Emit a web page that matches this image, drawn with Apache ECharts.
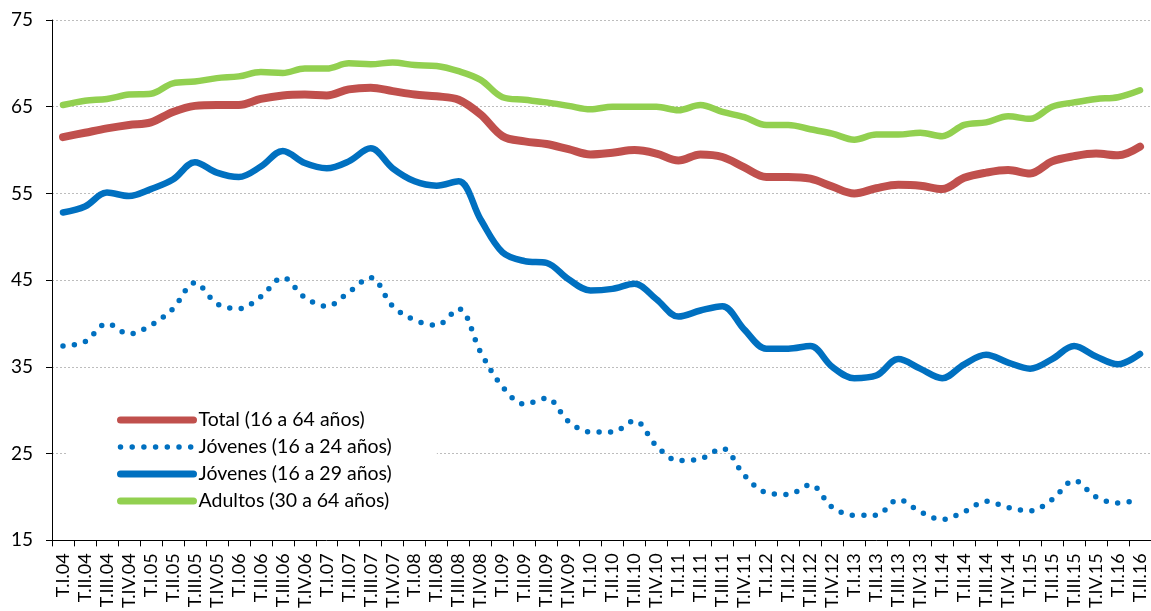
<!DOCTYPE html>
<html>
<head>
<meta charset="utf-8">
<script src="https://cdn.jsdelivr.net/npm/echarts@6/dist/echarts.min.js"></script>
<style>
html,body{margin:0;padding:0;background:#fff;}
#chart{width:1151px;height:611px;}
</style>
</head>
<body>
<div id="chart"></div>
<script>
const categories = [
  'T.I.04','T.II.04','T.III.04','T.IV.04',
  'T.I.05','T.II.05','T.III.05','T.IV.05',
  'T.I.06','T.II.06','T.III.06','T.IV.06',
  'T.I.07','T.II.07','T.III.07','T.IV.07',
  'T.I.08','T.II.08','T.III.08','T.IV.08',
  'T.I.09','T.II.09','T.III.09','T.IV.09',
  'T.I.10','T.II.10','T.III.10','T.IV.10',
  'T.I.11','T.II.11','T.III.11','T.IV.11',
  'T.I.12','T.II.12','T.III.12','T.IV.12',
  'T.I.13','T.II.13','T.III.13','T.IV.13',
  'T.I.14','T.II.14','T.III.14','T.IV.14',
  'T.I.15','T.II.15','T.III.15','T.IV.15',
  'T.I.16','T.II.16'
];

const total16_64 = [
  61.5, 62.0, 62.5, 62.9, 63.2, 64.4, 65.1, 65.2, 65.2, 65.9,
  66.3, 66.4, 66.3, 67.0, 67.2, 66.8, 66.4, 66.2, 65.8, 64.1,
  61.6, 61.0, 60.7, 60.1, 59.5, 59.7, 60.0, 59.6, 58.8, 59.5,
  59.2, 58.0, 56.9, 56.9, 56.7, 55.8, 55.0, 55.6, 56.0, 55.9,
  55.5, 56.8, 57.4, 57.7, 57.3, 58.7, 59.3, 59.6, 59.4, 60.4
];

const jovenes16_24 = [
  37.4, 37.9, 40.0, 38.8, 39.8, 41.7, 44.7, 42.3, 41.7, 43.1,
  45.3, 43.0, 42.0, 43.6, 45.3, 42.0, 40.4, 39.8, 41.7, 36.7,
  32.7, 30.7, 31.4, 28.7, 27.5, 27.5, 28.8, 25.9, 24.2, 24.4,
  25.6, 22.5, 20.5, 20.3, 21.4, 18.8, 17.9, 17.9, 19.7, 18.3,
  17.4, 18.3, 19.5, 18.8, 18.4, 19.7, 21.9, 20.0, 19.3, 19.7
];

const jovenes16_29 = [
  52.8, 53.5, 55.1, 54.7, 55.5, 56.6, 58.6, 57.4, 56.9, 58.1,
  59.9, 58.5, 57.9, 58.7, 60.2, 57.9, 56.4, 55.9, 56.4, 52.0,
  48.2, 47.2, 47.0, 45.1, 43.8, 44.0, 44.6, 42.8, 40.8, 41.5,
  42.0, 39.3, 37.1, 37.1, 37.4, 35.0, 33.7, 34.0, 35.9, 34.8,
  33.7, 35.3, 36.4, 35.5, 34.8, 35.9, 37.4, 36.2, 35.3, 36.5
];

const adultos30_64 = [
  65.2, 65.7, 65.9, 66.4, 66.5, 67.7, 67.9, 68.3, 68.5, 69.0,
  68.9, 69.4, 69.4, 70.0, 69.9, 70.1, 69.8, 69.7, 69.1, 68.1,
  66.1, 65.8, 65.5, 65.1, 64.7, 65.0, 65.0, 65.0, 64.6, 65.2,
  64.4, 63.8, 62.9, 62.9, 62.4, 61.9, 61.2, 61.8, 61.8, 62.0,
  61.6, 62.9, 63.2, 63.9, 63.6, 65.0, 65.5, 65.9, 66.1, 66.9
];

const yTicks = { min: 15, max: 75, step: 10 };

const seriesNames = [
  'Total (16 a 64 años)',
  'Jóvenes (16 a 24 años)',
  'Jóvenes (16 a 29 años)',
  'Adultos (30 a 64 años)'
];

const colors = ['#C0504D', '#0070C0', '#0070C0', '#92D050'];

const FONT = 'Lato, "Liberation Sans", sans-serif';

const legendLine = [
  { width: 7, cap: 'round', type: 'solid' },
  { width: 5.5, cap: 'round', type: [0, 11.7] },
  { width: 7, cap: 'round', type: 'solid' },
  { width: 7, cap: 'round', type: 'solid' }
];

const chart = echarts.init(document.getElementById('chart'), null, {renderer: 'canvas'});
chart.setOption({
  animation: false,
  backgroundColor: '#ffffff',
  grid: { left: 52, right: 0, top: 20, bottom: 69, containLabel: false },
  legend: {
    orient: 'vertical',
    left: 68,
    top: 393,
    padding: [17, 45, 17, 49],
    backgroundColor: '#ffffff',
    itemWidth: 73,
    itemHeight: 14,
    itemGap: 7,
    textStyle: { fontFamily: FONT, fontSize: 19.5, lineHeight: 20, color: '#000' },
    itemStyle: { opacity: 0 },
    data: seriesNames.map((n, i) => ({
      name: n,
      itemStyle: { opacity: 0, borderWidth: 0 },
      lineStyle: Object.assign({ color: colors[i], opacity: 1 }, legendLine[i])
    }))
  },
  xAxis: {
    type: 'category',
    data: categories,
    boundaryGap: true,
    axisLine: { lineStyle: { color: '#000', width: 1 } },
    axisTick: { show: true, length: 6, interval: 0, lineStyle: { color: '#000' } },
    axisLabel: {
      interval: 0, rotate: 90, margin: 13,
      fontFamily: FONT, fontSize: 18, color: '#000'
    },
    splitLine: { show: false }
  },
  yAxis: {
    type: 'value',
    min: yTicks.min, max: yTicks.max, interval: yTicks.step,
    axisLine: { show: true, lineStyle: { color: '#000', width: 1 } },
    axisTick: { show: true, length: 6, lineStyle: { color: '#000' } },
    axisLabel: { fontFamily: FONT, fontSize: 19, color: '#000', margin: 19 },
    splitLine: { show: true, lineStyle: { color: '#bdbdbd', width: 1, type: [2, 2] } }
  },
  series: [
    {
      name: seriesNames[0], type: 'line', data: total16_64, smooth: 0.35,
      symbol: 'none', color: colors[0],
      lineStyle: { color: colors[0], width: 8, cap: 'round', join: 'round' }
    },
    {
      name: seriesNames[1], type: 'line', data: jovenes16_24, smooth: 0.35,
      symbol: 'none', color: colors[1],
      lineStyle: { color: colors[1], width: 5.5, type: [0, 11.5], cap: 'round' }
    },
    {
      name: seriesNames[2], type: 'line', data: jovenes16_29, smooth: 0.35,
      symbol: 'none', color: colors[2],
      lineStyle: { color: colors[2], width: 6.5, cap: 'round', join: 'round' }
    },
    {
      name: seriesNames[3], type: 'line', data: adultos30_64, smooth: 0.35,
      symbol: 'none', color: colors[3],
      lineStyle: { color: colors[3], width: 6.5, cap: 'round', join: 'round' }
    }
  ]
});
</script>
</body>
</html>
